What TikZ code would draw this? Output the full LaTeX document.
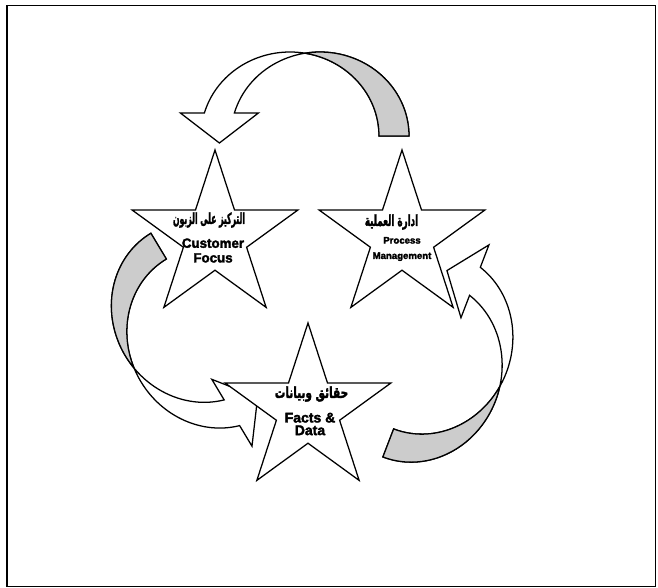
\documentclass[tikz,border=0pt]{standalone}
\usepackage{fontspec}
\usepackage{graphicx}
\setmainfont{Liberation Sans}[BoldFeatures={FakeBold=2.4}]
\newfontfamily\arabicfont[Script=Arabic, BoldFeatures={FakeBold=2.4}]{DejaVu Sans}
\TeXXeTstate=1
\usetikzlibrary{shapes.geometric}
\definecolor{backgray}{RGB}{204,204,204}
\tikzset{
  arrline/.style={draw=black, line width=0.95pt, line join=miter},
  starnode/.style={star, star points=5, star point ratio=2.618, minimum size=130.5pt,
    inner sep=0pt, draw=black, fill=white, line width=0.95pt},
  artext/.style={font=\arabicfont\bfseries\fontsize{11.5}{12}\selectfont, inner sep=0pt},
  entext/.style={font=\bfseries\fontsize{10}{11}\selectfont, align=center, inner sep=0pt},
  ensmall/.style={font=\bfseries\fontsize{7.2}{11.5}\selectfont, align=center, inner sep=0pt},
}
% #1 Ox, #2 Oy, #3 rotation, #4 x radius, #5 y radius, #6 head height
\newcommand\curvarr[6]{%
 \begin{scope}[shift={(#1,#2)}, rotate=#3, yscale=-1]
  \pgfmathsetmacro\arrA{#4}
  \pgfmathsetmacro\arrB{#5}
  \pgfmathsetmacro\arrH{#6}
  \pgfmathsetmacro\arrPhi{180-asin(\arrH/\arrB)}
  \pgfmathsetmacro\arrAC{\arrA*cos(asin(\arrH/\arrB))}
  \pgfmathsetmacro\arrTone{acos(15/\arrA)}
  \pgfmathsetmacro\arrTtwo{acos(-15/\arrA)}
  \filldraw[arrline, fill=white] ({-15+\arrA},0)
    arc[start angle=0, end angle=\arrPhi, x radius=\arrA, y radius=\arrB]
    -- ({-15-\arrAC-24},\arrH) -- ({-\arrAC},{\arrH-30}) -- ({15-\arrAC+24},\arrH) -- ({15-\arrAC},\arrH)
    arc[start angle=\arrPhi, end angle=0, x radius=\arrA, y radius=\arrB] -- cycle;
  \filldraw[arrline, fill=backgray] ({-15+\arrA},0)
    arc[start angle=0, end angle=\arrTone, x radius=\arrA, y radius=\arrB]
    arc[start angle=\arrTtwo, end angle=0, x radius=\arrA, y radius=\arrB] -- cycle;
 \end{scope}}
\begin{document}
\begin{tikzpicture}[x=0.75pt, y=-0.75pt]
\useasboundingbox (0,0) rectangle (658,588);
\draw[line width=1.2pt] (7,5.5) rectangle (655.5,586.5);
% curved arrows
\curvarr{305}{136}{0}{89}{84}{23}
\curvarr{206}{325}{121}{92}{85}{23}
\curvarr{421.5}{356.4}{-111}{92.7}{85}{23}
% stars
\node[starnode] (cf) at (215,237) {};
\node[starnode] (pm) at (402,237) {};
\node[starnode] (fd) at (308,410) {};
% labels
\node[artext] (cfa) at (209,220) {\resizebox{54pt}{\height}{\beginR التركيز على الزبون\endR}};
\node[entext] (cfe) at (213,250.5) {Customer\\Focus};
\node[artext] (pma) at (391.5,222) {\resizebox{40pt}{\height}{\beginR ادارة العملية\endR}};
\node[ensmall] (pme) at (402,249) {Process\\Management};
\node[artext] (fda) at (311.5,394) {\resizebox{55pt}{\height}{\beginR حقائق وبيانات\endR}};
\node[entext, font=\bfseries\fontsize{10.5}{9.5}\selectfont] (fde) at (310,424) {Facts \&\\Data};
\end{tikzpicture}
\end{document}
